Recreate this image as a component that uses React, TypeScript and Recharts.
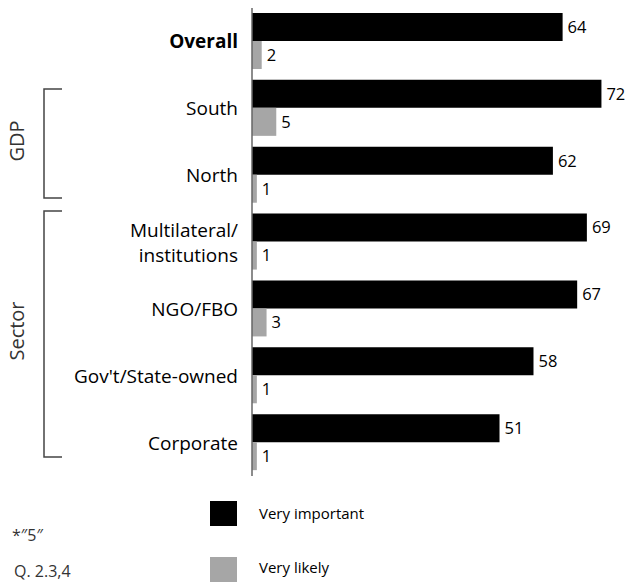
import { BarChart, Bar, XAxis, YAxis, LabelList } from "recharts";

const categories = [
  "Overall",
  "South",
  "North",
  "Multilateral/\ninstitutions",
  "NGO/FBO",
  "Gov't/State-owned",
  "Corporate",
];
const veryImportant = [64, 72, 62, 69, 67, 58, 51];
const veryLikely = [2, 5, 1, 1, 3, 1, 1];

const seriesNames = ["Very important", "Very likely"];
const footnotes = ["*″5″", "Q. 2.3,4"];

const BLACK = "#000000";
const GREY = "#a6a6a6";
const FONT = "'Open Sans', sans-serif";

const data = categories.map((name, i) => ({
  name,
  important: veryImportant[i],
  likely: veryLikely[i],
}));

function CategoryTick(props: any) {
  const { x, y, payload } = props;
  const lines = String(payload.value).split("\n");
  const bold = payload.value === "Overall";
  const lh = 25;
  const start = -((lines.length - 1) * lh) / 2;
  return (
    <text
      x={x}
      y={y}
      textAnchor="end"
      fontFamily={FONT}
      fontSize={19}
      fontWeight={bold ? 700 : 400}
      fill="#000"
    >
      {lines.map((l, i) => (
        <tspan key={i} x={x} dy={i === 0 ? start + 7 : lh}>
          {l}
        </tspan>
      ))}
    </text>
  );
}

// Klammern links: GDP und Sector, dazu Legende und Fußnoten
function Brackets() {
  const line = "#444";
  return (
    <svg
      width={625}
      height={583}
      style={{ position: "absolute", left: 0, top: 0, pointerEvents: "none" }}
    >
      <g stroke={line} strokeWidth={1.5} fill="none">
        <path d="M62,89 H44 V198 H62" />
        <path d="M62,211 H44 V457 H62" />
      </g>
      <text
        transform="translate(24,141) rotate(-90)"
        textAnchor="middle"
        fontFamily={FONT}
        fontWeight={400}
        fontSize={20}
        fill="#333"
      >
        GDP
      </text>
      <text
        transform="translate(24,331) rotate(-90)"
        textAnchor="middle"
        fontFamily={FONT}
        fontWeight={400}
        fontSize={20}
        fill="#333"
      >
        Sector
      </text>
      {[BLACK, GREY].map((c, i) => (
        <g key={i}>
          <rect x={210} y={501 + i * 56} width={27} height={25} fill={c} />
          <text
            x={259}
            y={519 + i * 54}
            fontFamily={FONT}
            fontSize={15}
            fill="#000"
          >
            {seriesNames[i]}
          </text>
        </g>
      ))}
      <text x={12} y={541} fontFamily={FONT} fontSize={16} fill="#333">
        {footnotes[0]}
      </text>
      <text x={14} y={577} fontFamily={FONT} fontSize={16} fill="#333">
        {footnotes[1]}
      </text>
    </svg>
  );
}

export default function App() {
  return (
    <div style={{ position: "absolute", left: 0, top: 0, width: 625, height: 583, background: "#fff" }}>
      <BarChart
        width={625}
        height={583}
        data={data}
        layout="vertical"
        margin={{ top: 8, right: 9, bottom: 107, left: 0 }}
        barGap={0}
        barCategoryGap={5}
      >
        <XAxis
          type="number"
          domain={[0, 75]}
          tick={false}
          tickLine={false}
          height={0}
          axisLine={{ stroke: "#666", strokeWidth: 1.5 }}
        />
        <YAxis
          type="category"
          dataKey="name"
          width={252}
          tickLine={false}
          tickSize={0}
          tickMargin={14}
          axisLine={{ stroke: "#666", strokeWidth: 1.5 }}
          tick={<CategoryTick />}
          interval={0}
        />
        <Bar dataKey="important" fill={BLACK} barSize={28} isAnimationActive={false}>
          <LabelList dataKey="important" position="right" offset={5} fontFamily={FONT} fontSize={16.5} fill="#000" />
        </Bar>
        <Bar dataKey="likely" fill={GREY} barSize={28} isAnimationActive={false}>
          <LabelList dataKey="likely" position="right" offset={5} fontFamily={FONT} fontSize={16.5} fill="#000" />
        </Bar>
      </BarChart>
      <Brackets />
    </div>
  );
}
